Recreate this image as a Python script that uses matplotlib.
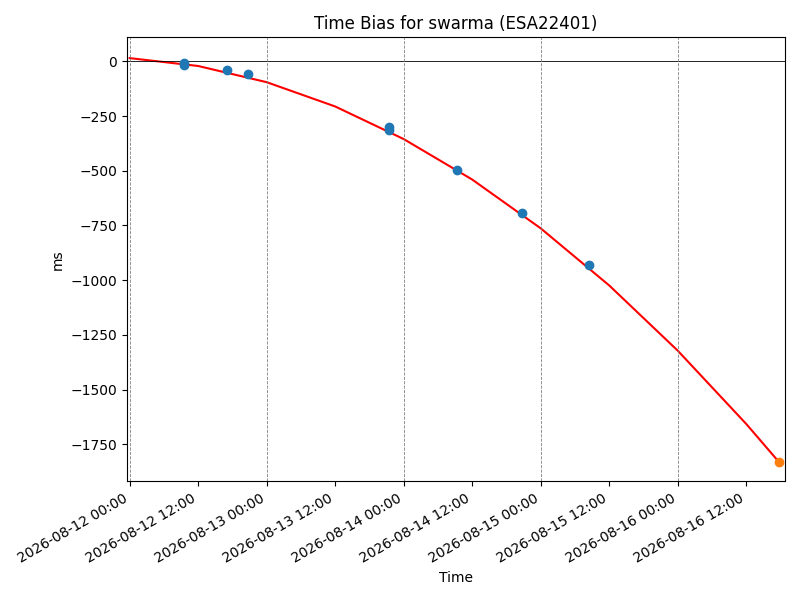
import numpy as np
import matplotlib
matplotlib.use("Agg")
import matplotlib.pyplot as plt
import matplotlib.dates as mdates

start = np.datetime64("2026-08-12T00:00")

# fitted curve, hours since start -> ms
curve_hours = [0, 12, 24, 36, 48, 60, 72, 84, 96, 108, 113.7]
curve_ms = [15, -21, -95, -206, -355, -540, -763, -1024, -1322, -1657, -1830]

# measured points
meas_hours = [9.5, 9.5, 17.0, 20.8, 45.5, 45.5, 57.3, 68.7, 80.4]
meas_ms = [-7, -15, -40, -58, -300, -315, -495, -695, -930]

pred_hours = [113.7]
pred_ms = [-1830]


def to_dates(hours):
    return [start + np.timedelta64(int(h * 60), "m") for h in hours]


fig, ax = plt.subplots(figsize=(8, 6), dpi=100)
ax.plot(to_dates(curve_hours), curve_ms, color="red")
ax.scatter(to_dates(meas_hours), meas_ms, color="C0", zorder=3)
ax.scatter(to_dates(pred_hours), pred_ms, color="C1", zorder=3)
ax.axhline(0, color="black", linewidth=0.6)

ax.xaxis.set_major_locator(mdates.HourLocator(byhour=[0, 12]))
ax.xaxis.set_major_formatter(mdates.DateFormatter("%Y-%m-%d %H:%M"))
for d in ["2026-08-12", "2026-08-13", "2026-08-14", "2026-08-15", "2026-08-16"]:
    ax.axvline(np.datetime64(d + "T00:00"), color="gray", linestyle="--", linewidth=0.6)

ax.set_xlim(start - np.timedelta64(30, "m"), start + np.timedelta64(int(114.8 * 60), "m"))
ax.set_ylim(-1920, 110)
ax.set_yticks(np.arange(-1750, 1, 250))
ax.set_title("Time Bias for swarma (ESA22401)")
ax.set_xlabel("Time")
ax.set_ylabel("ms")
fig.autofmt_xdate()
fig.tight_layout()
fig.savefig("out.png")
